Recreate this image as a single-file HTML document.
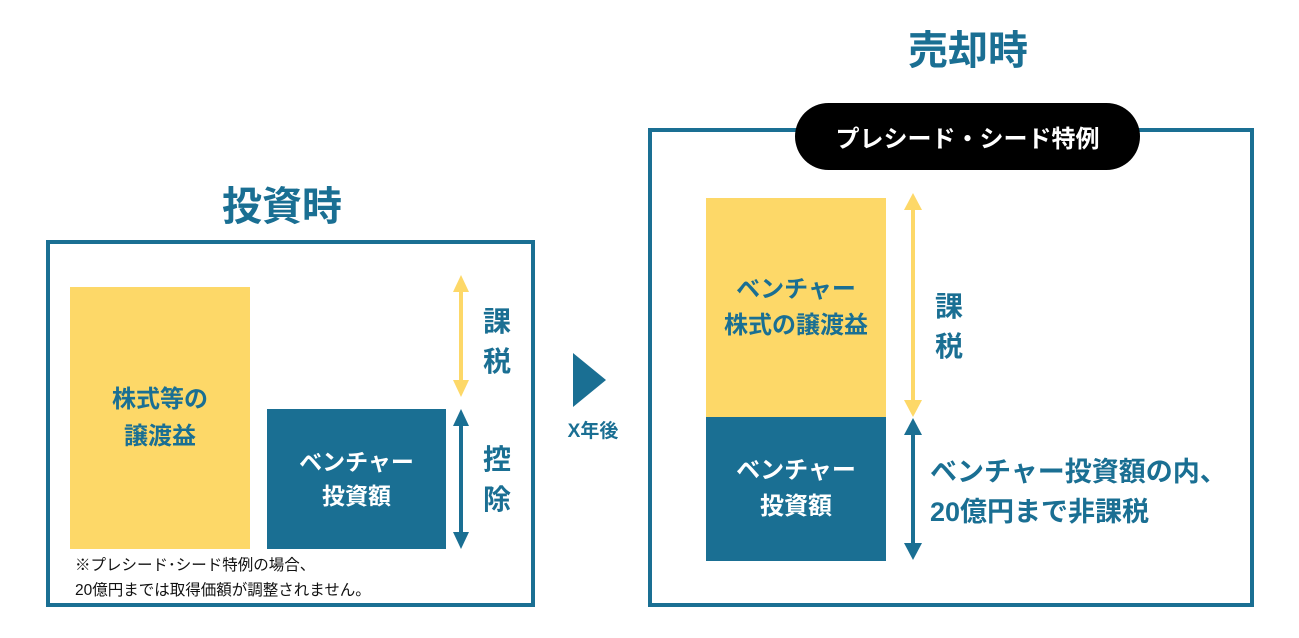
<!DOCTYPE html>
<html><head><meta charset="utf-8"><style>
body{margin:0;width:1299px;height:638px;background:#fff;position:relative;overflow:hidden;font-family:"Liberation Sans","Noto Sans CJK JP",sans-serif;font-weight:bold}
.a{position:absolute}
.c{display:flex;align-items:center;justify-content:center;text-align:center;flex-direction:column}
</style></head><body>
<div class="a" style="left:160px;top:174px;width:244px;text-align:center;font-size:40px;color:#1a6f93">投資時</div>
<div class="a" style="left:46px;top:240px;width:481px;height:359px;border:4px solid #1a6f93"></div>
<div class="a c" style="left:70px;top:287px;width:180px;height:262px;background:#fdd868;color:#1a6f93;font-size:24px;line-height:37px">株式等の<br>譲渡益</div>
<div class="a c" style="left:267px;top:409px;width:179px;height:140px;background:#1a6f93;color:#fff;font-size:23px;line-height:34px">ベンチャー<br>投資額</div>
<svg class="a" style="left:0;top:0" width="1299" height="638">
<g fill="#fdd868"><rect x="459" y="288" width="4" height="96"/><polygon points="453,292 461,275 469,292"/><polygon points="453,380 461,397 469,380"/>
<rect x="911" y="208" width="4" height="196"/><polygon points="904,210 913,193 922,210"/><polygon points="904,400 913,417 922,400"/></g>
<g fill="#1a6f93"><rect x="459" y="420" width="4" height="118"/><polygon points="453,426 461,409 469,426"/><polygon points="453,532 461,549 469,532"/>
<rect x="911" y="430" width="4" height="118"/><polygon points="904,435 913,418 922,435"/><polygon points="904,543 913,560 922,543"/>
<polygon points="573,353 606,380 573,407"/></g>
</svg>
<div class="a" style="left:483px;top:302px;font-size:28px;line-height:40px;color:#1a6f93">課<br>税</div>
<div class="a" style="left:483px;top:440px;font-size:28px;line-height:40px;color:#1a6f93">控<br>除</div>
<div class="a" style="left:75px;top:553px;font-size:15.5px;line-height:25px;font-weight:normal;color:#111">※プレシード･シード特例の場合、<br>20億円までは取得価額が調整されません。</div>
<div class="a" style="left:553px;top:416px;width:80px;text-align:center;font-size:19px;color:#1a6f93">X年後</div>
<div class="a" style="left:848px;top:18px;width:240px;text-align:center;font-size:40px;color:#1a6f93">売却時</div>
<div class="a" style="left:648px;top:128px;width:598px;height:471px;border:4px solid #1a6f93"></div>
<div class="a c" style="left:795px;top:103px;width:345px;height:67px;border-radius:34px;background:#000;color:#fff;font-size:24px">プレシード・シード特例</div>
<div class="a c" style="left:706px;top:198px;width:180px;height:219px;background:#fdd868;color:#1a6f93;font-size:24px;line-height:36px">ベンチャー<br>株式の譲渡益</div>
<div class="a c" style="left:706px;top:417px;width:180px;height:144px;background:#1a6f93;color:#fff;font-size:24px;line-height:36px">ベンチャー<br>投資額</div>
<div class="a" style="left:935px;top:287px;font-size:28px;line-height:40px;color:#1a6f93">課<br>税</div>
<div class="a" style="left:930px;top:452px;font-size:27px;line-height:40px;color:#1a6f93">ベンチャー投資額の内、<br>20億円まで非課税</div>
</body></html>
